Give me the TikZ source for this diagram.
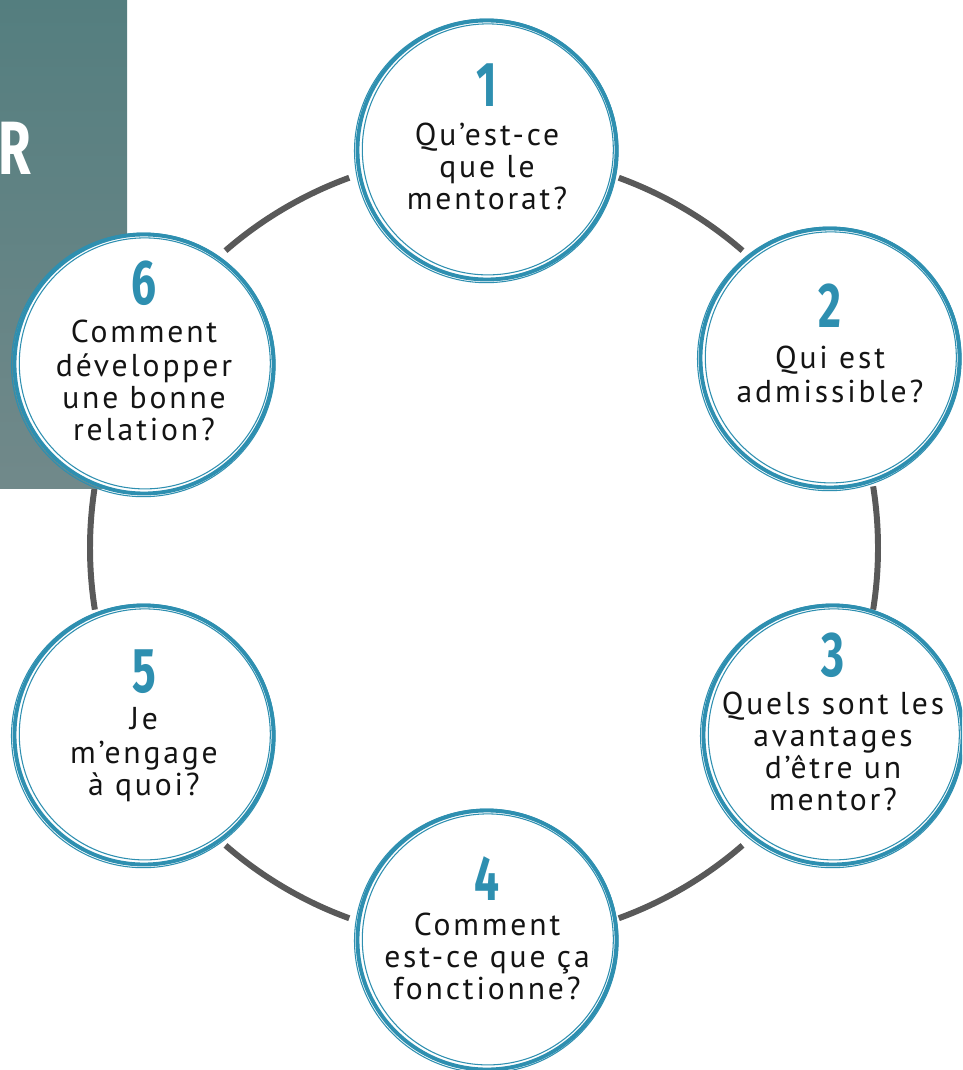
\documentclass[tikz,border=0pt]{standalone}
\usepackage{fontspec}
\setmainfont{PT Sans}
\newfontfamily\bodyfont[LetterSpace=9]{PT Sans}
\newfontfamily\numfont[FakeStretch=0.7]{Fira Sans}
\definecolor{tealc}{RGB}{46,143,176}
\definecolor{ringc}{RGB}{89,89,89}
\definecolor{recttop}{RGB}{84,126,127}
\definecolor{rectbot}{RGB}{113,137,138}
\definecolor{txt}{RGB}{20,20,20}
\tikzset{
  ringarc/.style={draw=ringc, line width=3.4pt},
  bubble/.style={circle, fill=white, minimum size={262*0.02cm}, inner sep=0pt},
  tealthick/.style={draw=tealc, line width=2.2pt},
  tealthin/.style={draw=tealc, line width=0.6pt},
  numlabel/.style={anchor=base, text=tealc, font=\numfont\bfseries\fontsize{36}{36}\selectfont, inner sep=0pt},
  bodylabel/.style={align=center, text=txt, inner sep=0pt, font=\bodyfont\fontsize{18}{18.1}\selectfont},
}
\newcommand\mybubble[6]{%
  \node[bubble] (#1) at (#2,#3) {};
  \draw[tealthick] (#1.center) circle[radius=129.5];
  \draw[tealthin] ([shift={(0.8,-0.6)}]#1.center) circle[radius=125.5];
  \draw[tealthin] ([shift={(-0.7,0.9)}]#1.center) circle[radius=131.8];
  \node[numlabel] (#1n) at (#2,#5) {#4};
  \node[bodylabel] (#1t) at (#2,#3+21) {\strut #6\strut};
}
\begin{document}
\begin{tikzpicture}[x=0.02cm, y=-0.02cm]
\useasboundingbox (0,0) rectangle (962,1070);
\clip (0,0) rectangle (962,1070);
\fill[white] (0,0) rectangle (962,1070);
\coordinate (ringc) at (484,548);
% ring arcs
\foreach \a/\b in {-70/-49, -9/9, 49/70, 110/131, 171/189, 229/250}{
  \draw[ringarc] ([shift={(\a:394)}]ringc) arc[start angle=\a, end angle=\b, radius=394];
}
% side panel
\shade[top color=recttop, bottom color=rectbot] (0,0) rectangle (127,488);
\node[anchor=base west, inner sep=0pt, text=white, font=\numfont\bfseries\fontsize{43}{43}\selectfont] (rlab) at (-2,175) {R};
% bubbles
\mybubble{c1}{487}{150}{1}{107}{Qu’est-ce\\que le\\mentorat?}
\mybubble{c2}{830}{358}{2}{328}{Qui est\\admissible?}
\mybubble{c3}{833}{735}{3}{676}{Quels sont les\\avantages\\d’être un\\mentor?}
\mybubble{c4}{487}{940}{4}{900}{Comment\\est-ce que ça\\fonctionne?}
\mybubble{c5}{144}{735}{5}{692}{Je\\m’engage\\à quoi?}
\mybubble{c6}{144}{364}{6}{305}{Comment\\développer\\une bonne\\relation?}
\end{tikzpicture}
\end{document}
